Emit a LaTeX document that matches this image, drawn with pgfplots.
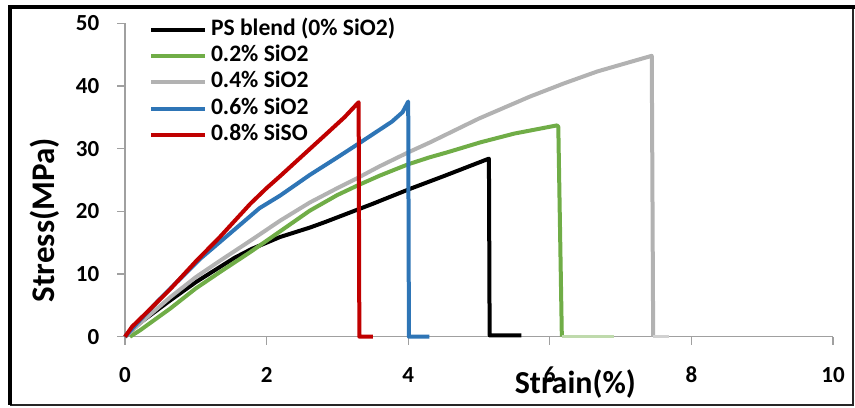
\documentclass[border=0pt]{standalone}
\usepackage{fontspec}
\setmainfont{Carlito}
\usepackage{pgfplots}
\pgfplotsset{compat=1.18}

\definecolor{cBlack}{RGB}{0,0,0}
\definecolor{cGreen}{RGB}{112,173,71}
\definecolor{cGray}{RGB}{178,178,178}
\definecolor{cBlue}{RGB}{46,117,182}
\definecolor{cRed}{RGB}{192,0,0}
\definecolor{cAxis}{RGB}{160,160,160}

\begin{document}
\begin{tikzpicture}
\useasboundingbox (0,0) rectangle (427.5pt,203.5pt);
% outer frame
\draw[line width=1pt, draw=black!85] (426.5pt,200pt) -- (426.5pt,1pt) -- (5pt,1pt);
\draw[line width=2pt, draw=black] (5pt,1pt) -- (5pt,200pt) -- (427.5pt,200pt);
\begin{axis}[
  at={(62.5pt,35.15pt)}, anchor=south west,
  scale only axis, width=354pt, height=156.75pt,
  xmin=0, xmax=10, ymin=0, ymax=50,
  xtick={0,2,4,6,8,10}, ytick={0,10,20,30,40,50},
  axis x line=bottom, axis y line=left,
  axis line style={-, draw=cAxis, line width=0.6pt},
  tick style={draw=cAxis, line width=0.6pt},
  tick align=outside, major tick length=4pt,
  clip=false,
  tick label style={font=\fontsize{11.5}{13}\selectfont\bfseries},
  /pgf/number format/assume math mode=true,
  xticklabel style={anchor=center, inner sep=0pt, yshift=-15.1pt},
  yticklabel style={anchor=east, inner sep=0pt, xshift=-8.7pt},
  xlabel={Strain(\%)},
  ylabel={Stress(MPa)},
  xlabel style={font=\fontsize{16}{18}\selectfont\bfseries,
    at={(axis description cs:0.636,-0.182)}, anchor=base},
  ylabel style={font=\fontsize{16.5}{18}\selectfont\bfseries,
    at={(axis description cs:-0.099,0.372)}, anchor=base},
  legend cell align=left,
  legend image code/.code={\draw[#1] (0pt,0pt) -- (27pt,0pt);},
  legend style={draw=none, fill=none, inner sep=0pt, outer sep=0pt,
    at={(axis description cs:0.0339,1.0198)}, anchor=north west,
    row sep=0pt, column sep=2pt,
    font=\fontsize{11.8}{13}\selectfont\bfseries,
    nodes={inner sep=0pt, outer sep=0pt, text height=9.3pt, text depth=3.8pt}},
  every axis plot/.append style={line width=2pt, line join=round},
]
% PS blend (0% SiO2)
\addplot[cBlack] coordinates {
  (0,0) (0.21,2.2) (0.64,5.8) (1.0,8.7) (1.31,10.9) (1.55,12.6) (1.79,14.0)
  (2.19,15.9) (2.61,17.4) (2.83,18.3) (3.5,21.2) (4.03,23.6) (4.5,25.6)
  (5.14,28.4) (5.15,0.2) (5.6,0.2)};
\addlegendentry{PS blend (0\% SiO2)}
% 0.2% SiO2
\addplot[cGreen] coordinates {
  (0.07,0) (0.21,1.0) (0.64,4.5) (1.0,7.7) (1.34,10.3) (1.77,13.5)
  (2.19,16.8) (2.61,20.1) (3.0,22.6) (3.3,24.2) (3.6,25.7) (4.0,27.5)
  (4.3,28.6) (4.55,29.4) (5.02,31.0) (5.5,32.4) (6.10,33.7) (6.12,33.5)
  (6.17,0)};
\addlegendentry{0.2\% SiO2}
% 0.4% SiO2
\addplot[cGray] coordinates {
  (0,0) (0.3,3.0) (0.64,6.3) (1.0,9.5) (1.34,12.1) (1.77,15.3) (2.19,18.5)
  (2.61,21.4) (3.0,23.7) (3.3,25.4) (3.6,27.2) (4.0,29.4) (4.31,31.0)
  (5.0,34.8) (5.72,38.3) (6.2,40.4) (6.67,42.3) (7.1,43.7) (7.44,44.8)
  (7.46,0)};
\addlegendentry{0.4\% SiO2}
% 0.6% SiO2
\addplot[cBlue] coordinates {
  (0,0) (0.2,2.5) (0.5,6.1) (1.06,12.4) (1.6,17.6) (1.9,20.5) (2.19,22.5)
  (2.61,25.8) (3.0,28.6) (3.3,30.8) (3.77,34.3) (3.92,35.8) (4.0,37.5)
  (4.01,0) (4.3,0)};
\addlegendentry{0.6\% SiO2}
% 0.8% SiSO
\addplot[cRed] coordinates {
  (0,0) (0.1,1.6) (0.21,2.8) (0.4,4.9) (0.64,7.6) (1.0,12.0) (1.34,15.9)
  (1.77,21.2) (2.0,23.7) (2.19,25.6) (2.5,28.8) (2.83,32.2) (3.1,35.0)
  (3.30,37.4) (3.31,0) (3.5,0)};
\addlegendentry{0.8\% SiSO}
% post-fracture tails
\addplot[cGreen!45, line width=1.5pt, forget plot] coordinates {(6.17,0) (6.9,0)};
\addplot[cGray!60, line width=1.5pt, forget plot] coordinates {(7.46,0) (7.68,0)};
\end{axis}
\end{tikzpicture}
\end{document}
